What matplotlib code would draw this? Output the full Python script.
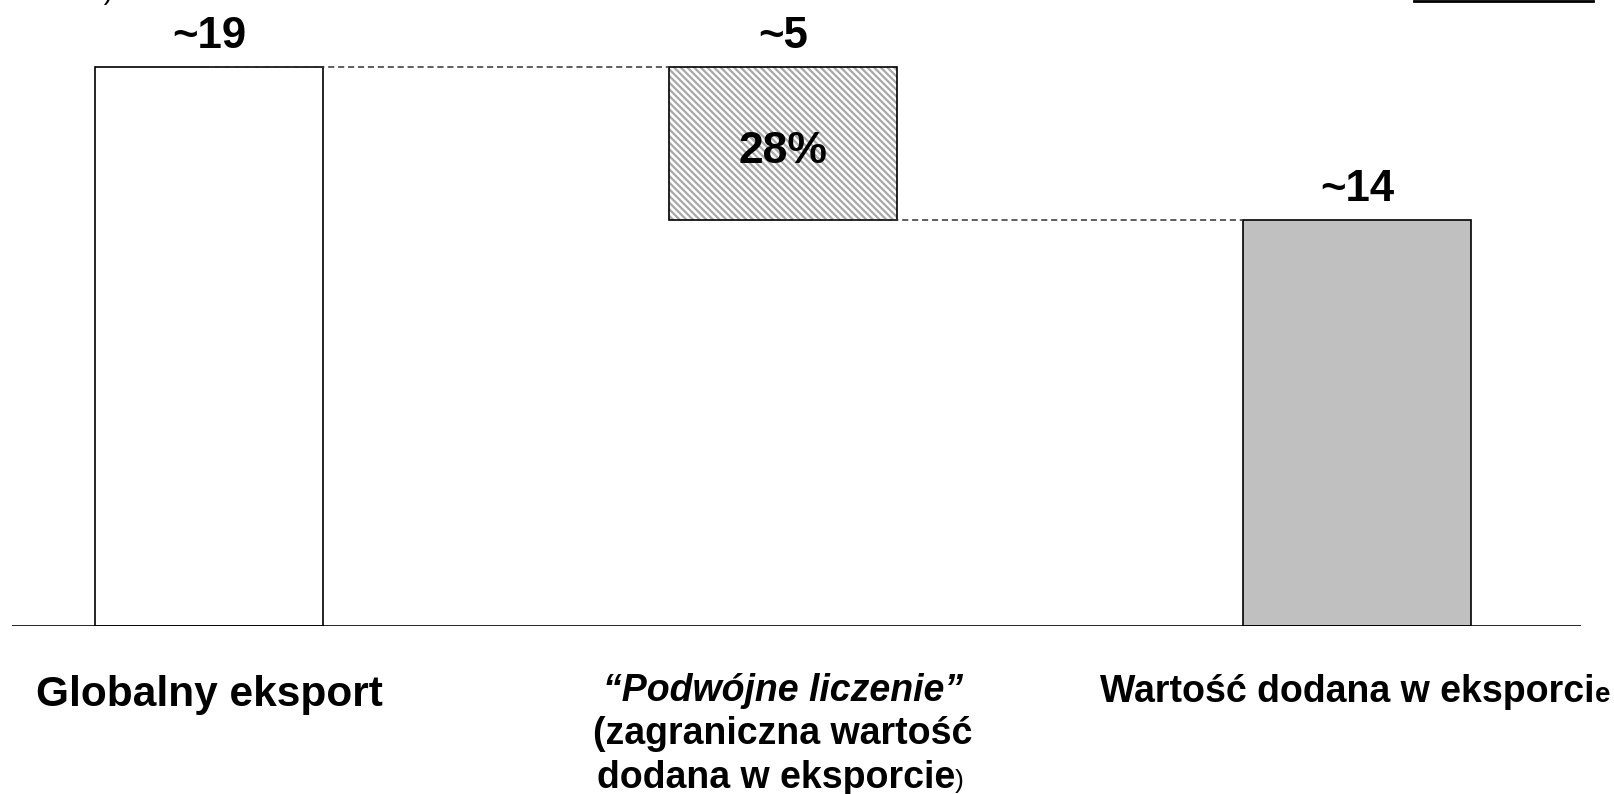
import numpy as np
import matplotlib.pyplot as plt
from matplotlib.transforms import blended_transform_factory

# data
categories = ['Globalny eksport', '\u201cPodwójne liczenie\u201d', 'Wartość dodana w eksporcie']
global_export = 19.0
value_added = 13.8
value_labels = ['~19', '~5', '~14']
share_label = '28%'

double_count = global_export - value_added
heights = [global_export, double_count, value_added]
bottoms = [0, value_added, 0]
x = np.arange(3)
w = 0.397

plt.rcParams['font.family'] = ['Liberation Sans', 'DejaVu Sans']
plt.rcParams['hatch.color'] = '#a8a8a8'
plt.rcParams['hatch.linewidth'] = 1.6

W, H = 1614, 794
fig = plt.figure(figsize=(W / 100, H / 100), dpi=100)
ax = fig.add_axes([12 / W, 1 - 626 / H, (1581 - 12) / W, 626 / H])
ax.set_xlim(-(209 - 12) / 574, (1581 - 209) / 574)
ax.set_ylim(0, global_export * 626 / 559)
ax.axis('off')

# bars
ax.bar(x[0], heights[0], w, bottom=bottoms[0], color='white', edgecolor='black', lw=1.2, zorder=2)
ax.bar(x[1], heights[1], w, bottom=bottoms[1], color='white', hatch='\\\\\\\\\\', edgecolor='#a8a8a8', lw=0, zorder=2)
ax.bar(x[1], heights[1], w, bottom=bottoms[1], fill=False, edgecolor='black', lw=1.2, zorder=3)
ax.bar(x[2], heights[2], w, bottom=bottoms[2], color='#c0c0c0', edgecolor='black', lw=1.2, zorder=2)

# baseline
ax.axhline(0, color='black', lw=1.2, zorder=4)

# connectors
ax.plot([x[0], x[1] - w / 2], [global_export] * 2, color='#333333', lw=1.1, ls=(0, (4, 2.5)), zorder=4)
ax.plot([x[1], x[2] - w / 2], [value_added] * 2, color='#333333', lw=1.1, ls=(0, (4, 2.5)), zorder=4)

# value labels
tops = [b + h for b, h in zip(bottoms, heights)]
for xi, t, lab in zip(x, tops, value_labels):
    ax.annotate(lab, (xi, t), xytext=(0, 14), textcoords='offset points',
                ha='center', va='baseline', fontsize=31.5, fontweight='bold')
ax.annotate(share_label, (x[1], value_added + double_count / 2), xytext=(0, -6),
            textcoords='offset points', ha='center', va='center',
            fontsize=32, fontweight='bold', zorder=5)

# category labels
tr = blended_transform_factory(ax.transData, fig.transFigure)
ax.text(x[0], 1 - 695 / H, categories[0], transform=tr, ha='center', va='center',
        fontsize=30.5, fontweight='bold')
ax.text(x[1], 1 - 691 / H, categories[1], transform=tr, ha='center', va='center',
        fontsize=27, fontweight='bold', style='italic')
ax.text(x[1], 1 - 734 / H, '(zagraniczna wartość', transform=tr, ha='center', va='center',
        fontsize=27, fontweight='bold')
t3 = ax.text(x[1] - 0.012, 1 - 778 / H, 'dodana w eksporcie', transform=tr, ha='center', va='center',
             fontsize=27, fontweight='bold')
ax.annotate(')', xy=(1, 0.22), xycoords=t3, ha='left', va='baseline', fontsize=19)
t4 = ax.text(x[2] - 0.017, 1 - 692 / H, 'Wartość dodana w eksporci', transform=tr, ha='center',
             va='center', fontsize=27, fontweight='bold')
ax.annotate('e', xy=(1, 0.22), xycoords=t4, ha='left', va='baseline', fontsize=20, fontweight='bold')

# cut-off unit text at top left and rule at top right
fig.text(113 / W, 1 + 1 / H, '(bln USD)', ha='right', va='baseline', fontsize=20)
fig.add_artist(plt.Line2D([1414 / W, 1593 / W], [1 - 1.2 / H] * 2, color='black', lw=2))

fig.savefig('out.png', dpi=100)
